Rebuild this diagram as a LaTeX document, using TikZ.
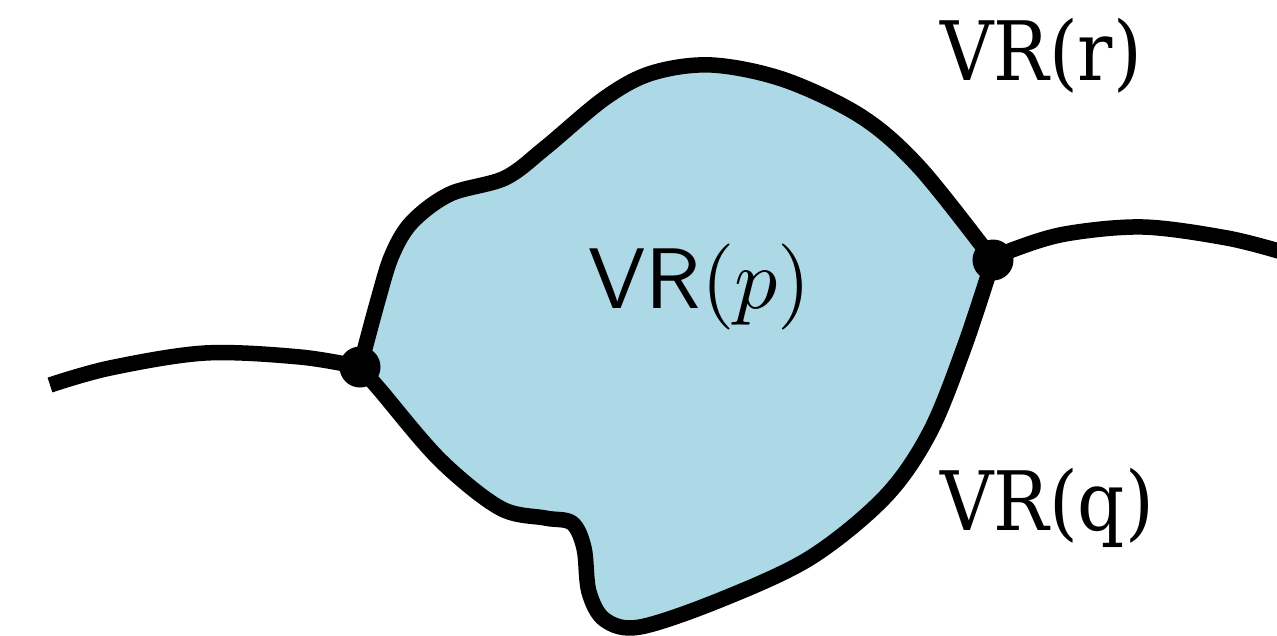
\documentclass[tikz,border=0pt]{standalone}
\usepackage{fontspec}
\newfontfamily\lblfont{DejaVu Serif}
\definecolor{regionblue}{RGB}{173,216,230}
\tikzset{
  bound/.style={line width=15.5pt, line join=round, line cap=butt},
  dotnode/.style={circle, fill=black, minimum size=41pt, inner sep=0pt},
  lbl/.style={anchor=base west, inner sep=0pt, font=\lblfont\fontsize{82}{96}\selectfont},
}
\begin{document}
\begin{tikzpicture}[x=1pt,y=-1pt]
\useasboundingbox (0,0) rectangle (1277,635);
\coordinate (L) at (360,367);
\coordinate (R) at (993,260);
\def\upperarc{(360,367) (378,300) (392,255) (412,222) (450,194) (505,178) (545,148) (605,98) (652,73) (712,65) (785,80) (862,117) (920,168) (993,260)}
\def\lowerarc{(993,260) (965,345) (930,432) (885,497) (810,558) (720,600) (640,627) (605,620) (589,592) (584,548) (572,523) (545,518) (500,508) (440,460) (380,390) (360,367)}
% region
\fill[regionblue]
  plot[smooth,tension=0.55] coordinates \upperarc
  -- plot[smooth,tension=0.55] coordinates \lowerarc
  -- cycle;
\draw[bound] plot[smooth,tension=0.55] coordinates \upperarc;
\draw[bound] plot[smooth,tension=0.55] coordinates \lowerarc;
% outer edges
\draw[bound] plot[smooth,tension=0.55] coordinates {(50,385) (110,368) (205,353) (300,357) (360,367)};
\draw[bound] plot[smooth,tension=0.55] coordinates {(993,260) (1012,250) (1065,234) (1143,227) (1227,238) (1282,252)};
% junction dots
\node[dotnode] (dl) at (L) {};
\node[dotnode] (dr) at (R) {};
% labels
\node[lbl] (vrr) at (940,80) {\scalebox{0.9}[1]{VR(r)}};
\node[lbl] (vrq) at (940,530) {\scalebox{0.9}[1]{VR(q)}};
\node[anchor=base west, inner sep=0pt] (vrp) at (588,308) {\scalebox{8.6}{\textsf{VR}$(p)$}};
\end{tikzpicture}
\end{document}
